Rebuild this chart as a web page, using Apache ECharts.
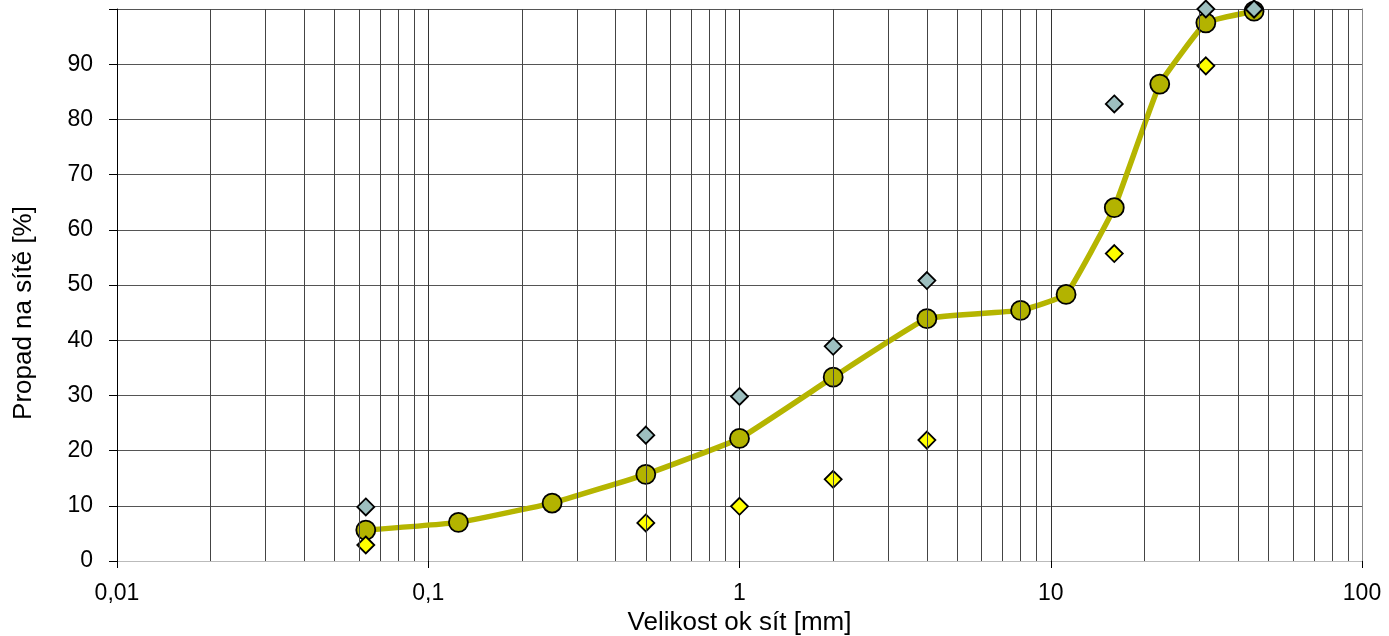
<!DOCTYPE html>
<html>
<head>
<meta charset="utf-8">
<script src="https://cdn.jsdelivr.net/npm/echarts@6/dist/echarts.min.js"></script>
<style>html,body{margin:0;padding:0;background:#fff}#c{width:1389px;height:636px}</style>
</head>
<body>
<div id="c"></div>
<script>
const sieveSizes = [0.063, 0.125, 0.25, 0.5, 1, 2, 4, 8, 11.2, 16, 22.4, 31.5, 45];
const passing = [5.6, 7.0, 10.5, 15.7, 22.2, 33.3, 43.9, 45.4, 48.3, 64.0, 86.4, 97.5, 99.6];
const limitSizes = [0.063, 0.5, 1, 2, 4, 16, 31.5, 45];
const upperLimit = [9.8, 22.8, 29.8, 38.9, 50.8, 82.8, 100, 100];
const lowerLimit = [2.9, 6.9, 9.9, 14.8, 21.9, 55.7, 89.7, 100];
const minorTicks = [0.02,0.03,0.04,0.05,0.06,0.07,0.08,0.09,
  0.2,0.3,0.4,0.5,0.6,0.7,0.8,0.9,
  2,3,4,5,6,7,8,9,
  20,30,40,50,60,70,80,90];

const zip = (xs, ys) => xs.map((x, i) => [x, ys[i]]);
const font = 'Liberation Sans, Arial, sans-serif';
const chart = echarts.init(document.getElementById('c'));
chart.setOption({
  animation: false,
  grid: {left: 117, right: 27, top: 9, bottom: 75, containLabel: false, outerBoundsMode: 'none'},
  xAxis: [{
    type: 'log', logBase: 10, min: 0.01, max: 100,
    name: 'Velikost ok sít [mm]', nameLocation: 'middle', nameGap: 39,
    nameTextStyle: {fontFamily: font, fontSize: 26, color: '#000'},
    axisLine: {lineStyle: {color: '#000', width: 1}},
    axisTick: {show: true, length: 7, lineStyle: {color: '#000'}},
    axisLabel: {fontFamily: font, fontSize: 23, color: '#000', margin: 21,
      formatter: v => String(+v.toPrecision(6)).replace('.', ',')},
    splitLine: {show: true, lineStyle: {color: '#333', width: 1}}
  }, {
    type: 'log', logBase: 10, min: 0.01, max: 100, position: 'top',
    axisLine: {show: true, lineStyle: {color: '#bbb', width: 1}},
    axisTick: {show: false}, axisLabel: {show: false}, splitLine: {show: false}
  }],
  yAxis: [{
    type: 'value', min: 0, max: 100, interval: 10,
    name: 'Propad na sítě [%]', nameLocation: 'middle', nameGap: 80,
    nameTextStyle: {fontFamily: font, fontSize: 26, color: '#000', padding: [0, 56, 0, 0]},
    axisLine: {show: true, lineStyle: {color: '#000', width: 1}},
    axisTick: {show: true, length: 8, lineStyle: {color: '#000'}},
    axisLabel: {fontFamily: font, fontSize: 23, color: '#000', margin: 24,
      formatter: v => v >= 100 ? '' : String(v)},
    splitLine: {show: true, lineStyle: {color: '#555', width: 1}}
  }, {
    type: 'value', min: 0, max: 100, position: 'right',
    axisLine: {show: true, lineStyle: {color: '#888', width: 1}},
    axisTick: {show: false}, axisLabel: {show: false}, splitLine: {show: false}
  }],
  series: [{
    type: 'line', data: [], z: 1, silent: true,
    markLine: {
      silent: true, symbol: 'none', animation: false,
      label: {show: false},
      lineStyle: {color: '#444', width: 1, type: 'solid'},
      emphasis: {disabled: true},
      data: minorTicks.map(v => ({xAxis: v}))
    }
  }, {
    type: 'line', data: zip(sieveSizes, passing), smooth: 0.1, z: 3,
    symbol: 'circle', symbolSize: 19,
    lineStyle: {color: '#B5B500', width: 5.5},
    itemStyle: {color: '#B3B300', borderColor: '#000', borderWidth: 1.8}
  }, {
    type: 'scatter', data: zip(limitSizes, lowerLimit), z: 4,
    symbol: 'diamond', symbolSize: [17, 17],
    itemStyle: {color: '#FFFF00', borderColor: '#000', borderWidth: 1.8, opacity: 1}
  }, {
    type: 'scatter', data: zip(limitSizes, upperLimit), z: 5,
    symbol: 'diamond', symbolSize: [17, 17],
    itemStyle: {color: '#9DBFBF', borderColor: '#000', borderWidth: 1.8, opacity: 1}
  }]
});
</script>
</body>
</html>
